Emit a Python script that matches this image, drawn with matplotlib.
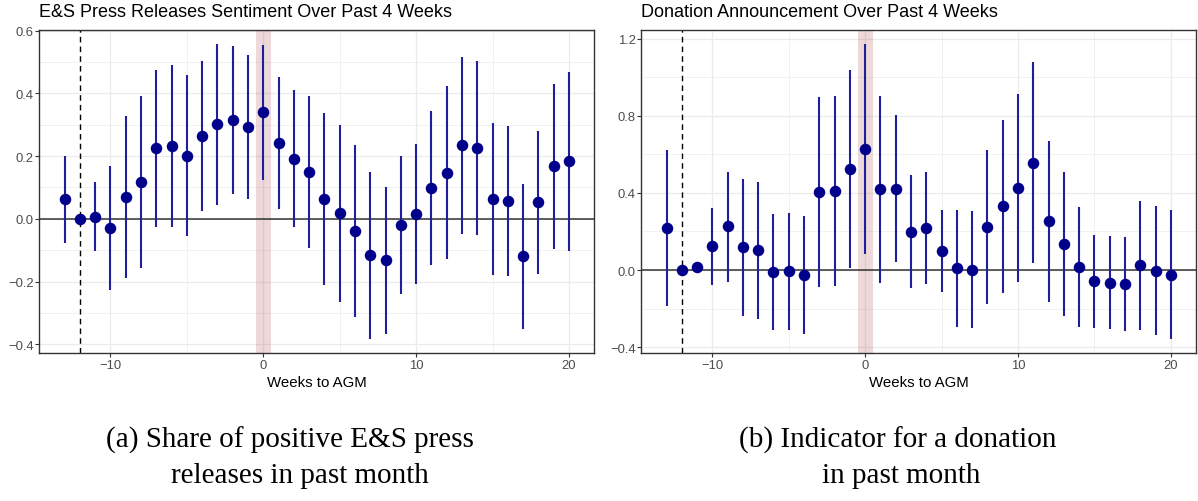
import matplotlib
matplotlib.use("Agg")
import matplotlib.pyplot as plt
from matplotlib.ticker import MultipleLocator

# event-study coefficients, weeks relative to AGM (-12 is the omitted reference week)
weeks = [-13, -12, -11, -10, -9, -8, -7, -6, -5, -4, -3, -2, -1, 0, 1, 2,
         3, 4, 5, 6, 7, 8, 9, 10, 11, 12, 13, 14, 15, 16, 17, 18, 19, 20]

es_est = [0.062, 0.000, 0.006, -0.030, 0.069, 0.117, 0.225, 0.231, 0.200, 0.264, 0.301, 0.315,
          0.293, 0.339, 0.242, 0.192, 0.149, 0.064, 0.017, -0.038, -0.116, -0.132, -0.020,
          0.015, 0.099, 0.147, 0.234, 0.227, 0.063, 0.056, -0.120, 0.053, 0.168, 0.183]
es_lo = [-0.078, 0.000, -0.104, -0.227, -0.188, -0.158, -0.026, -0.027, -0.055, 0.025, 0.044,
         0.080, 0.063, 0.124, 0.031, -0.025, -0.093, -0.210, -0.266, -0.312, -0.382, -0.366,
         -0.239, -0.208, -0.148, -0.128, -0.049, -0.052, -0.180, -0.184, -0.351, -0.175,
         -0.095, -0.103]
es_hi = [0.200, 0.000, 0.117, 0.168, 0.327, 0.391, 0.474, 0.489, 0.457, 0.504, 0.556, 0.550,
         0.521, 0.554, 0.451, 0.410, 0.392, 0.336, 0.300, 0.234, 0.148, 0.101, 0.199, 0.237,
         0.345, 0.422, 0.516, 0.504, 0.304, 0.296, 0.111, 0.279, 0.429, 0.469]

don_est = [0.218, 0.000, 0.017, 0.124, 0.226, 0.118, 0.105, -0.010, -0.007, -0.026, 0.404,
           0.408, 0.522, 0.627, 0.421, 0.423, 0.198, 0.218, 0.098, 0.009, 0.002, 0.223, 0.332,
           0.427, 0.556, 0.254, 0.136, 0.014, -0.059, -0.066, -0.073, 0.024, -0.004, -0.024]
don_lo = [-0.185, 0.000, 0.002, -0.076, -0.060, -0.238, -0.252, -0.314, -0.311, -0.330, -0.086,
          -0.084, 0.009, 0.083, -0.066, 0.041, -0.092, -0.074, -0.114, -0.297, -0.301, -0.178,
          -0.117, -0.060, 0.036, -0.164, -0.237, -0.297, -0.301, -0.307, -0.318, -0.309,
          -0.335, -0.356]
don_hi = [0.622, 0.000, 0.032, 0.321, 0.509, 0.473, 0.458, 0.290, 0.297, 0.280, 0.898, 0.902,
          1.036, 1.171, 0.905, 0.803, 0.491, 0.509, 0.311, 0.311, 0.304, 0.623, 0.781, 0.914,
          1.078, 0.668, 0.511, 0.325, 0.183, 0.176, 0.171, 0.358, 0.332, 0.309]

titles = ["E&S Press Releases Sentiment Over Past 4 Weeks",
          "Donation Announcement Over Past 4 Weeks"]
captions = [["(a) Share of positive E&S press", "releases in past month"],
            ["(b) Indicator for a donation", "in past month"]]

W, H = 1198, 502
plt.rcParams["font.family"] = ["Liberation Sans", "DejaVu Sans"]


def draw_panel(ax, est, lo, hi, title, y_major, y_minor):
    ax.set_facecolor("white")
    ax.grid(True, which="major", color="#ebebeb", lw=0.9, zorder=0)
    ax.grid(True, which="minor", color="#ebebeb", lw=0.5, zorder=0)
    ax.set_axisbelow(True)
    ax.axvspan(-0.5, 0.5, color="#8b0000", alpha=0.15, lw=0, zorder=1)
    ax.axhline(0, color="#333333", lw=1.1, zorder=2)
    ax.axvline(-12, color="black", lw=1.0, ls=(0, (4, 3)), zorder=2)
    ax.vlines(weeks, lo, hi, color="#1f1f9e", lw=1.5, zorder=3)
    ax.plot(weeks, est, "o", color="#00008b", ms=8.3, mec="none", zorder=4)
    ax.margins(x=0.05, y=0.05)

    ax.xaxis.set_major_locator(MultipleLocator(10))
    ax.xaxis.set_minor_locator(MultipleLocator(5))
    ax.yaxis.set_major_locator(MultipleLocator(y_major))
    ax.yaxis.set_minor_locator(MultipleLocator(y_minor))
    ax.tick_params(which="major", direction="out", length=2.7, width=0.8,
                   color="#333333", labelcolor="#4d4d4d", labelsize=9.4, pad=1.3)
    ax.tick_params(which="minor", length=0)
    ax.yaxis.set_major_formatter(plt.FuncFormatter(lambda v, _: f"{v:.1f}".replace("-", "\u2212")))
    for s in ax.spines.values():
        s.set_color("#333333")
        s.set_linewidth(1.0)

    ax.set_xlabel("Weeks to AGM", fontsize=10.8, color="black", labelpad=3.2)
    ax.set_title(title, loc="left", fontsize=13, color="black", pad=9.8)


fig = plt.figure(figsize=(W / 100, H / 100), dpi=100)
ax1 = fig.add_axes([39.3 / W, 1 - 354.3 / H, 555 / W, 323.6 / H])
ax2 = fig.add_axes([641.3 / W, 1 - 354.3 / H, 554.7 / W, 323.6 / H])

draw_panel(ax1, es_est, es_lo, es_hi, titles[0], 0.2, 0.1)
draw_panel(ax2, don_est, don_lo, don_hi, titles[1], 0.4, 0.2)

# LaTeX-style subfigure captions
cap_x = [(290, 300), (898, 901)]
for (x1, x2), (line1, line2) in zip(cap_x, captions):
    fig.text(x1 / W, 1 - 448 / H, line1, ha="center", va="baseline",
             fontsize=21, family="Liberation Serif")
    fig.text(x2 / W, 1 - 483 / H, line2, ha="center", va="baseline",
             fontsize=21, family="Liberation Serif")

fig.savefig("out.png", dpi=100)
